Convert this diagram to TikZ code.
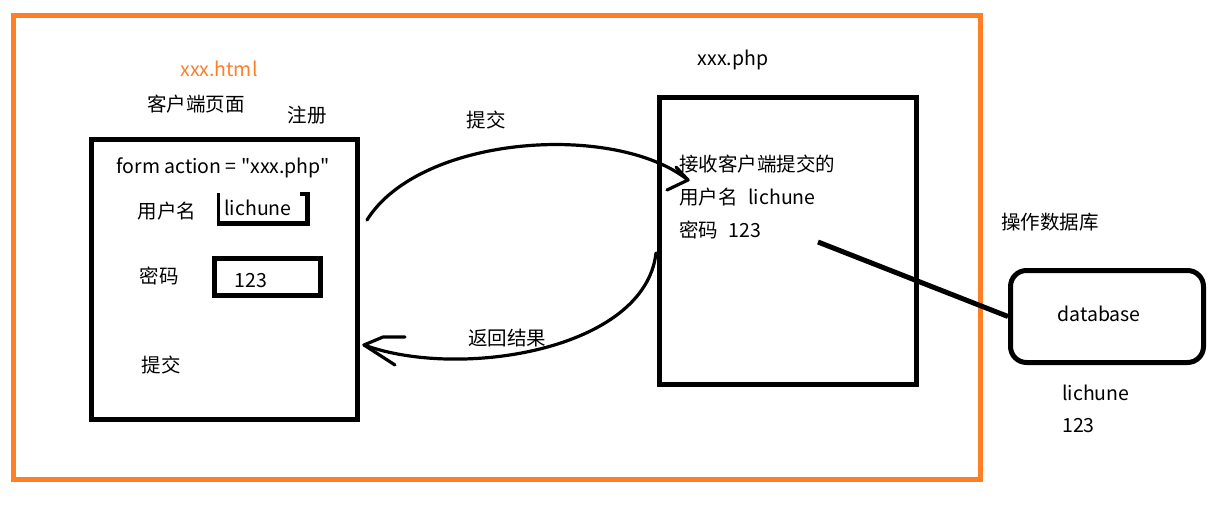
\documentclass[tikz,border=0pt]{standalone}
\usepackage{fontspec}
\setmainfont{Noto Sans CJK SC}[Ligatures=TeXOff]
\usetikzlibrary{calc}
\definecolor{paintorange}{HTML}{FF7F27}
\tikzset{
  txt/.style={inner sep=0pt, font=\fontsize{19.5}{22}\selectfont},
  frame/.style={draw=paintorange, line width=5pt},
  thickbox/.style={draw=black, line width=5pt},
  stroke/.style={draw=black, line width=3.2pt, line cap=round, line join=round},
}
\begin{document}
\begin{tikzpicture}[x=1pt,y=-1pt]
\useasboundingbox (0,0) rectangle (1224,506);
\fill[white] (0,0) rectangle (1224,506);
% orange frame
\draw[frame] (13.5,15.5) rectangle (980.5,479.5);

% left side labels
\node[txt, text=paintorange] (html) at (219,69) {xxx.html};
\node[txt] (client) at (196,104) {客户端页面};
\node[txt] (reg) at (307,115) {注册};

% left box
\draw[thickbox] (91.5,139.5) rectangle (357,419.5);
\node[txt] (form) at (223,168) {form action = "xxx.php"};
\node[txt] (ulabel) at (167,211) {用户名};
\draw[black, line width=3pt] (218,193) -- (218,223.5);
\draw[black, line width=5pt] (216.5,223) -- (307,223) -- (307,192);
\draw[black, line width=4pt] (300,194) -- (309,194);
\node[txt] (uval) at (258,208) {lichune};
\node[txt] (plabel) at (159,276) {密码};
\draw[thickbox] (214.5,258.5) rectangle (320.5,295.5);
\node[txt] (pval) at (251,281) {123};
\node[txt] (submit) at (161,365) {提交};

% middle labels
\node[txt] (sublabel) at (486,120) {提交};
\node[txt] (retlabel) at (507,338) {返回结果};

% right box
\node[txt] (php) at (733,60) {xxx.php};
\draw[thickbox] (659,97) rectangle (916,384);
\node[txt, anchor=west] (recv) at (679,164) {接收客户端提交的};
\node[txt, anchor=west] (ruser) at (679,197) {用户名\hspace{0.55em}lichune};
\node[txt, anchor=west] (rpass) at (679,230) {密码\hspace{0.55em}123};

% submit arc
\coordinate (s1) at (367,220);
\coordinate (e1) at (688,180);
\draw[stroke] (s1) .. controls (420,135) and (615,122) .. (e1);
\draw[stroke] (676,167) -- (e1) -- (667,190);

% return arc
\coordinate (s2) at (656,253);
\coordinate (e2) at (364,345);
\draw[stroke] (s2) .. controls (645,350) and (460,380) .. (e2);
\draw[stroke] (405,337) -- (383,337) -- (e2) -- (395,365);

% database
\node[txt] (ops) at (1050,222) {操作数据库};
\node[draw=black, line width=5pt, rounded corners=16pt, minimum width=193pt, minimum height=92pt, inner sep=0pt] (db) at (1107,316.5) {};
\node[txt] (dbtext) at (1099,314) {database};
\coordinate (lstart) at (818,242);
\draw[black, line width=5pt] (lstart) -- (db.west);
\node[txt, anchor=west] (dbuser) at (1062,393) {lichune};
\node[txt, anchor=west] (dbpass) at (1062,426) {123};
\end{tikzpicture}
\end{document}
